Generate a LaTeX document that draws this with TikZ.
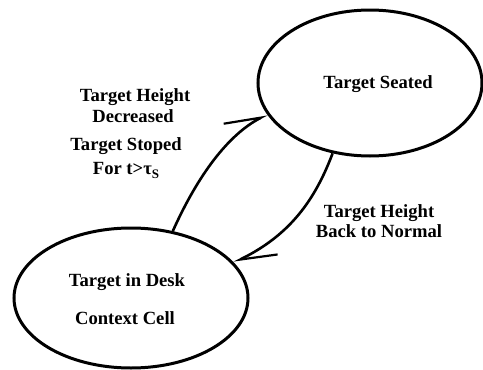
\documentclass[tikz,border=0pt]{standalone}
\usepackage{fontspec}
\setmainfont{Liberation Serif}
\usetikzlibrary{arrows.meta,shapes.geometric}
\begin{document}
\begin{tikzpicture}[x=1pt,y=-1pt,
  state/.style={draw, line width=3pt, ellipse, inner sep=0pt},
  lbl/.style={anchor=base, inner sep=0pt, font=\fontsize{18.6}{18.6}\selectfont\bfseries},
  trans/.style={line width=2.6pt, -{Straight Barb[harpoon, length=36pt, width=24pt, line width=2.2pt]}}]
\useasboundingbox (0,0) rectangle (483,370);
\node[state, minimum width=224pt, minimum height=146pt] (seated) at (370,83) {};
\node[state, minimum width=234pt, minimum height=140pt] (desk) at (131,298) {};
\node[lbl] (tseat) at (378,88) {Target Seated};
\node[lbl] (tdesk1) at (127,286) {Target in Desk};
\node[lbl] (tdesk2) at (125,324) {Context Cell};
\node[lbl] (l1) at (135,101) {Target Height};
\node[lbl] (l2) at (133,122) {Decreased};
\node[lbl] (l3) at (126,150) {Target Stoped};
\node[lbl] (l4) at (126,174) {For t>τ\raisebox{-4pt}{\fontsize{13}{13}\selectfont S}};
\node[lbl] (r1) at (379,217) {Target Height};
\node[lbl] (r2) at (379,237) {Back to Normal};
\draw[trans] (desk.58) .. controls (198,175) and (228,135) .. (seated.197);
\draw[trans] (seated.242) .. controls (315,200) and (290,235) .. (desk.19);
\end{tikzpicture}
\end{document}
